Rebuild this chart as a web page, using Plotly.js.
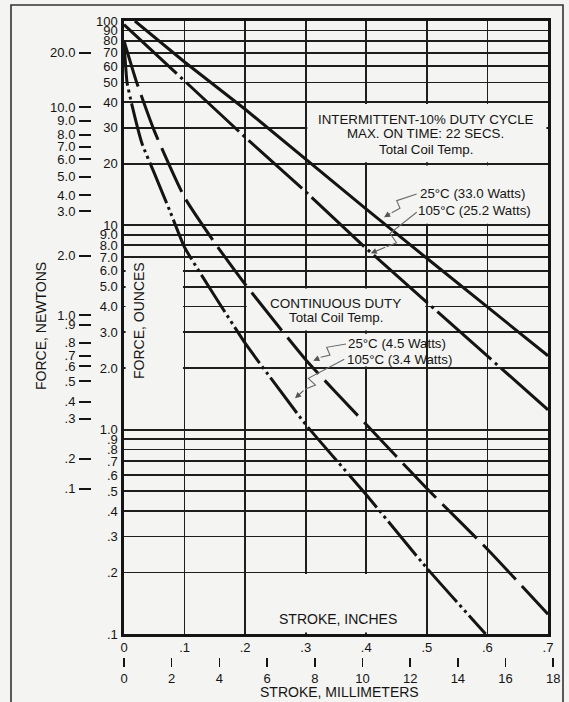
<!DOCTYPE html>
<html><head><meta charset="utf-8">
<script src="https://cdn.plot.ly/plotly-3.0.1.min.js"></script>
<style>html,body{margin:0;padding:0;background:#f4f4f2;}</style>
</head><body>
<div id="chart" style="width:569px;height:702px"></div>
<script>
// ---- data (stroke in inches, force in ounces) ----
const strokeInt25 = [0.018, 0.1, 0.2, 0.3, 0.4, 0.5, 0.6, 0.7];
const forceInt25  = [100, 63, 37, 21, 12, 6.9, 4.0, 2.3];

const strokeInt105 = [0, 0.1, 0.2, 0.3, 0.4, 0.5, 0.6, 0.7];
const forceInt105  = [96, 51, 27, 14.6, 7.7, 4.2, 2.3, 1.25];

const strokeCont25 = [0, 0.02, 0.05, 0.1, 0.15, 0.2, 0.3, 0.4, 0.5, 0.6, 0.7];
const forceCont25  = [80, 51, 29, 13.7, 8.2, 5.15, 2.2, 1.06, 0.515, 0.26, 0.125];

const strokeCont105 = [0, 0.005, 0.013, 0.03, 0.05, 0.076, 0.1, 0.15, 0.2, 0.3, 0.4, 0.5, 0.597];
const forceCont105  = [79, 50, 39, 25, 18, 11.7, 7.8, 4.5, 2.65, 1.06, 0.48, 0.21, 0.1];

const inchTicks  = [0, 0.1, 0.2, 0.3, 0.4, 0.5, 0.6, 0.7];
const inchLabels = ['0', '.1', '.2', '.3', '.4', '.5', '.6', '.7'];
const mmTicks  = [0, 2, 4, 6, 8, 10, 12, 14, 16, 18];
const mmLabels = ['0', '2', '4', '6', '8', '10', '12', '14', '16', '18'];
const ozTicks  = [0.1, 0.2, 0.3, 0.4, 0.5, 0.6, 0.7, 0.8, 0.9, 1, 2, 3, 4, 5, 6, 7, 8, 9, 10, 20, 30, 40, 50, 60, 70, 80, 90, 100];
const ozLabels = ['.1', '.2', '.3', '.4', '.5', '.6', '.7', '.8', '.9', '1.0', '2.0', '3.0', '4.0', '5.0', '6.0', '7.0', '8.0', '9.0', '10', '20', '30', '40', '50', '60', '70', '80', '90', '100'];
// newton scale marks, placed where the printed scale puts them
const newtonTicks  = [19.4, 10.5, 9.05, 7.7, 6.75, 5.85, 4.8, 3.9, 3.25, 1.97, 1.01, 0.905, 0.74, 0.64, 0.57, 0.48, 0.38, 0.315, 0.2, 0.143];
const newtonLabels = ['20.0', '10.0', '9.0', '8.0', '7.0', '6.0', '5.0', '4.0', '3.0', '2.0', '1.0', '.9', '.8', '.7', '.6', '.5', '.4', '.3', '.2', '.1'];
const OZ_TO_N = 0.27801;
const MM_PER_IN = 25.4;

// ---- layout geometry ----
const W = 569, H = 702;
const PL = 124, PR = 548, PT = 21, PB = 634, MM_R = 560;
const PX = p => p / W;
const PY = p => (H - p) / H;
const XMAX = 0.7, YLO = 0.1, YHI = 100;
const DEC_PX = (PB - PT) / (Math.log10(YHI) - Math.log10(YLO));
const IN_PX = (PR - PL) / XMAX;

const BG = '#f4f4f2', INK = '#141414', FONT = 'Liberation Sans, Arial, sans-serif';

const traces = [
  {x: strokeInt25, y: forceInt25, mode: 'lines', line: {color: INK, width: 3}},
  {x: strokeInt105, y: forceInt105, mode: 'lines', line: {color: INK, width: 3, dash: '72px,5px,3px,5px'}},
  {x: strokeCont25, y: forceCont25, mode: 'lines', line: {color: INK, width: 3, dash: '48px,9px', shape: 'spline', smoothing: 0.5}},
  {x: strokeCont105, y: forceCont105, mode: 'lines', line: {color: INK, width: 3, dash: '44px,4px,3px,4px,3px,4px', shape: 'spline', smoothing: 0.4}},
  {x: [], y: [], xaxis: 'x2', yaxis: 'y2', mode: 'lines'}
].map(t => Object.assign({hoverinfo: 'skip', showlegend: false}, t));

// blank boxes that hide the grid under the texts (extents in inches / ounces)
const boxes = [
  [0, 0.1, 1, 7],
  [0.3, 0.7, 20, 40],
  [0.4, 0.7, 10, 20],
  [0.2, 0.5, 3, 5],
  [0.3, 0.5, 2, 3],
  [0.2, 0.5, 0.1, 0.2]
];
const INSET = 1.6;
const shapes = boxes.map(b => ({
  type: 'rect', xref: 'x', yref: 'y', layer: 'between',
  x0: b[0] + INSET / IN_PX, x1: b[1] - INSET / IN_PX,
  y0: b[2] * Math.pow(10, INSET / DEC_PX), y1: b[3] / Math.pow(10, INSET / DEC_PX),
  fillcolor: BG, line: {width: 0}
}));

// outer frame
shapes.push({type: 'rect', xref: 'paper', yref: 'paper', x0: PX(11), x1: PX(563), y0: PY(720), y1: PY(5),
  line: {color: '#333', width: 1.6}, fillcolor: 'rgba(0,0,0,0)', layer: 'above'});

// leader zig-zags
const leaders = [
  {pts: [[416.7, 194], [396.7, 200.7], [400, 208.3], [391.7, 212.7]], tip: [384, 217.3]},
  {pts: [[416.7, 212.3], [390, 233.3], [396.5, 242.7], [386.7, 246.7]], tip: [370.7, 253.3]},
  {pts: [[346, 344], [326.7, 347.3], [330, 355], [320.7, 357.3]], tip: [313.3, 360.7]},
  {pts: [[344.3, 359.3], [308.3, 378.3], [315.5, 385], [305, 389.3]], tip: [295, 398.3]}
];
const annotations = [];
leaders.forEach(l => {
  shapes.push({type: 'path', xref: 'paper', yref: 'paper', layer: 'above',
    path: l.pts.map((p, i) => (i ? 'L' : 'M') + PX(p[0]) + ',' + PY(p[1])).join(' '),
    line: {color: '#6a6a6a', width: 1.1}});
  const last = l.pts[l.pts.length - 1];
  annotations.push({xref: 'paper', yref: 'paper', x: PX(l.tip[0]), y: PY(l.tip[1]), text: '',
    showarrow: true, ax: last[0] - l.tip[0], ay: last[1] - l.tip[1], axref: 'pixel', ayref: 'pixel',
    arrowhead: 2, arrowsize: 1.1, arrowwidth: 1.1, arrowcolor: '#555'});
});

function label(text, x, y, size, anchor, angle) {
  annotations.push({xref: 'paper', yref: 'paper', x: PX(x), y: PY(y), text: text, showarrow: false,
    xanchor: anchor || 'center', yanchor: 'middle', textangle: angle || 0,
    font: {family: FONT, size: size, color: INK}, borderpad: 0});
}
label('INTERMITTENT-10% DUTY CYCLE', 425.7, 119, 13.3);
label('MAX. ON TIME: 22 SECS.', 425.5, 133.5, 13.3);
label('Total Coil Temp.', 426, 149, 13.3);
label('25°C (33.0 Watts)', 419, 193.5, 13.3, 'left');
label('105°C (25.2 Watts)', 416.5, 211, 13.3, 'left');
label('CONTINUOUS DUTY', 335, 303.5, 13.5);
label('Total Coil Temp.', 336, 318, 13.3);
label('25°C (4.5 Watts)', 347, 343, 13.3, 'left');
label('105°C (3.4 Watts)', 345.5, 359.5, 13.3, 'left');
label('STROKE, INCHES', 337.5, 619, 14);
label('STROKE, MILLIMETERS', 339, 692, 14);
label('FORCE, NEWTONS', 41, 326, 14, 'center', -90);
label('FORCE, OUNCES', 139, 321, 14, 'center', -90);

const tickFont = {family: FONT, size: 13, color: INK};
const layout = {
  width: W, height: H,
  margin: {l: 0, r: 0, t: 0, b: 0},
  paper_bgcolor: BG, plot_bgcolor: 'rgba(0,0,0,0)',
  showlegend: false,
  xaxis: {domain: [PX(PL), PX(PR)], range: [0, XMAX], tickvals: inchTicks, ticktext: inchLabels,
    ticks: '', showgrid: true, gridcolor: '#1e1e1e', gridwidth: 1.7, zeroline: false,
    showline: true, mirror: true, linecolor: INK, linewidth: 2.6, tickfont: tickFont, ticklabelstandoff: 0,
    fixedrange: true},
  yaxis: {domain: [PY(PB), PY(PT)], type: 'log', range: [Math.log10(YLO), Math.log10(YHI)],
    tickvals: ozTicks, ticktext: ozLabels, ticks: '', showgrid: true, gridcolor: '#1e1e1e', gridwidth: 1.7,
    zeroline: false, showline: true, mirror: true, linecolor: INK, linewidth: 2.6, tickfont: tickFont,
    ticklabelstandoff: 1, fixedrange: true},
  xaxis2: {domain: [PX(PL), PX(MM_R)], anchor: 'free', position: PY(657), side: 'bottom',
    range: [0, XMAX * MM_PER_IN * (MM_R - PL) / (PR - PL)], tickvals: mmTicks, ticktext: mmLabels,
    ticks: 'outside', ticklen: 9, tickwidth: 1.6, tickcolor: INK, showgrid: false, zeroline: false,
    showline: false, tickfont: tickFont, fixedrange: true},
  yaxis2: {overlaying: 'y', anchor: 'free', position: PX(91), side: 'left', type: 'log',
    range: [Math.log10(YLO * OZ_TO_N), Math.log10(YHI * OZ_TO_N)], tickvals: newtonTicks, ticktext: newtonLabels,
    ticks: 'outside', ticklen: 12, tickwidth: 2, tickcolor: INK, showgrid: false, zeroline: false,
    showline: false, tickfont: tickFont, ticklabelstandoff: 1, fixedrange: true},
  shapes: shapes,
  annotations: annotations
};
Plotly.newPlot('chart', traces, layout, {staticPlot: true, displayModeBar: false});
</script>
</body></html>
